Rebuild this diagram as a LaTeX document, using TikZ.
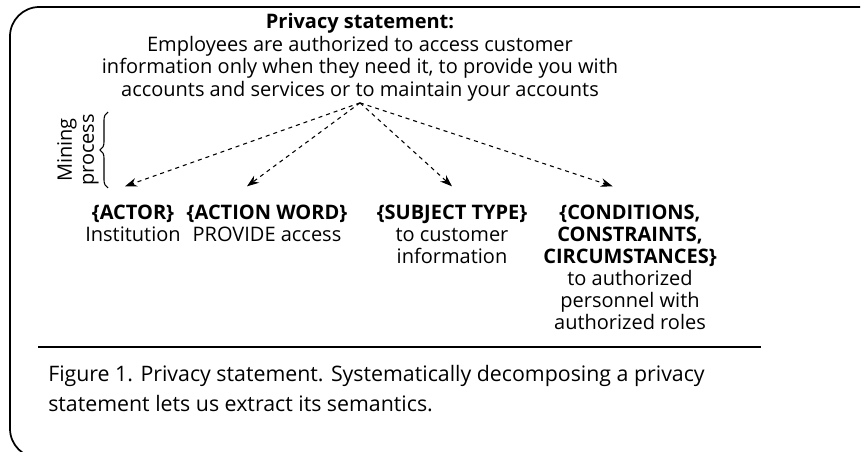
\documentclass[tikz,border=0pt]{standalone}
\usepackage{fontspec}
\setmainfont{Open Sans}
\usetikzlibrary{positioning,arrows.meta,decorations.pathreplacing}

\tikzset{
	txt/.style={align=center,inner sep=0pt,anchor=north,font=\fontsize{15}{16.5}\selectfont},
	stmttxt/.style={txt,font=\fontsize{15}{17}\selectfont},
	captxt/.style={align=left,inner sep=0pt,anchor=north west,font=\fontsize{16}{22.5}\selectfont},
	dasharrow/.style={dashed,line width=0.8pt,-{Stealth[length=9pt,width=6.5pt]}}
}

\begin{document}
\begin{tikzpicture}[x=0.75pt,y=-0.75pt]

\clip (0,0) rectangle (864,452);

% frame
\draw[line width=1.3pt,rounded corners=22pt] (860,7) -- (10,7) -- (10,458) -- (860,458);

% statement
\node[stmttxt] (stmt) at (360,13) {\textbf{Privacy statement:}\\
	Employees are authorized to access customer\\
	information only when they need it, to provide you with\\
	accounts and services or to maintain your accounts};

% parts
\node[txt] (actor) at (133,205) {\textbf{\{ACTOR\}}\\ Institution};
\node[txt] (action) at (267,205) {\textbf{\{ACTION WORD\}}\\ PROVIDE access};
\node[txt] (subject) at (452,205) {\textbf{\{SUBJECT TYPE\}}\\ to customer\\ information};
\node[txt] (cond) at (630,205) {\textbf{\{CONDITIONS,}\\ \textbf{CONSTRAINTS,}\\ \textbf{CIRCUMSTANCES\}}\\
	to authorized\\ personnel with\\ authorized roles};

\begin{scope}
	\coordinate (src) at ([yshift=-1pt]stmt.south);
	\coordinate (t1) at ([xshift=-6pt,yshift=14pt]actor.north);
	\coordinate (t2) at ([xshift=-15pt,yshift=14pt]action.north);
	\coordinate (t3) at ([yshift=14pt]subject.north);
	\coordinate (t4) at ([xshift=-13pt,yshift=14pt]cond.north);
	%
	\coordinate (b0) at (108,188);
	\coordinate (b1) at (108,112);
\end{scope}

\draw[dasharrow] (src) -- (t1);
\draw[dasharrow] (src) -- (t2);
\draw[dasharrow] (src) -- (t3);
\draw[dasharrow] (src) -- (t4);

% mining process
\draw[line width=0.8pt,decorate,decoration={brace,amplitude=6pt}] (b0) -- (b1);
\node[txt,anchor=center,rotate=90] (mining) at (78,150) {Mining\\ process};

% caption
\draw[line width=1pt] (38,347) -- (761,347);
\node[captxt] (caption) at (48,365) {Figure 1. Privacy statement. Systematically decomposing a privacy\\
	statement lets us extract its semantics.};

\end{tikzpicture}
\end{document}
